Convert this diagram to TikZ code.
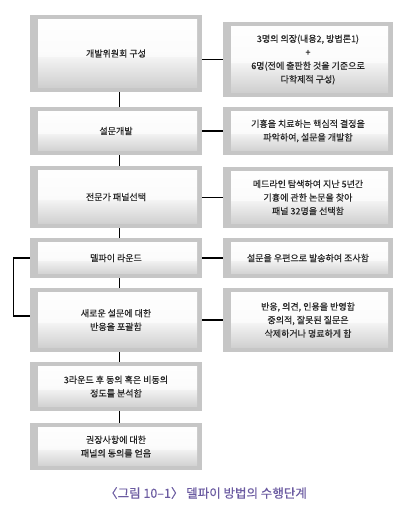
\documentclass[tikz,border=0pt]{standalone}
\usepackage{fontspec}
\setmainfont{Noto Sans CJK KR}[FakeBold=0.5]
\newfontfamily\capfont{Noto Sans CJK KR}[FakeBold=0.3]
\definecolor{boxgray}{HTML}{C6C6C6}
\definecolor{txt}{HTML}{262626}
\definecolor{capcol}{HTML}{6A5AA0}
\tikzset{
  gbox/.style={draw=none, fill=boxgray, inner sep=0pt, align=center, text=txt,
    font=\fontsize{9}{13.5}\selectfont,
    path picture={
      \shade[top color=white, bottom color=boxgray!95, middle color=white!88!boxgray]
        ([xshift=8pt,yshift=-4pt]path picture bounding box.north west)
        rectangle ([xshift=-5pt,yshift=5pt]path picture bounding box.south east);
      \fill[white, opacity=0.55]
        ([xshift=8pt,yshift=-4pt]path picture bounding box.north west)
        rectangle ([xshift=-5pt,yshift=-3pt]path picture bounding box.east);
    }},
  lbox/.style={gbox, minimum width=172pt},
  rbox/.style={gbox, minimum width=170pt},
  conn/.style={draw=black, line width=1.1pt}
}
\begin{document}
\begin{tikzpicture}[x=1pt,y=-1pt]
\useasboundingbox (0,0) rectangle (409,523);
% left column
\node[lbox, minimum height=77pt] (L1) at (116,53.5) {\raisebox{-6.5pt}{개발위원회 구성}};
\node[lbox, minimum height=48pt] (L2) at (116,131) {설문개발};
\node[lbox, minimum height=62pt] (L3) at (116,197) {전문가 패널선택};
\node[lbox, minimum height=40pt] (L4) at (116,258) {델파이 라운드};
\node[lbox, minimum height=64pt] (L5) at (116,320) {새로운 설문에 대한\\반응을 포괄함};
\node[lbox, minimum height=49pt] (L6) at (116,386.5) {3라운드 후 동의 혹은 비동의\\정도를 분석함};
\node[lbox, minimum height=47pt] (L7) at (116,446.5) {권장사항에 대한\\패널의 동의를 얻음};
% right column
\node[rbox, minimum height=75pt] (R1) at (308,59.5) {3명의 의장(내용2, 방법론1)\\+\\6명(전에 출판한 것을 기준으로\\다학제적 구성)};
\node[rbox, minimum height=48pt] (R2) at (308,131) {기흉을 치료하는 핵심적 결정을\\파악하여, 설문을 개발함};
\node[rbox, minimum height=61pt] (R3) at (308,197.5) {메드라인 탐색하여 지난 5년간\\기흉에 관한 논문을 찾아\\패널 32명을 선택함};
\node[rbox, minimum height=40pt] (R4) at (308,258) {설문을 우편으로 발송하여 조사함};
\node[rbox, minimum height=64pt] (R5) at (308,320) {반응, 의견, 인용을 반영함\\중의적, 잘못된 질문은\\삭제하거나 명료하게 함};
% vertical connectors
\foreach \a/\b in {L1/L2,L2/L3,L3/L4,L4/L5,L5/L6,L6/L7}
  \draw[conn] ([xshift=3.5pt]\a.south) -- ([xshift=3.5pt]\b.north);
% horizontal connectors
\foreach \i in {1,...,5}
  \draw[conn] (L\i.east |- R\i.west) -- (R\i.west);
% loop
\draw[conn] (L4.west) -- ++(-16,0) |- ([yshift=4pt]L5.west);
% caption
\node[text=capcol, font=\capfont\fontsize{12.5}{14}\selectfont] (cap) at (206,493) {〈그림 10–1〉 델파이 방법의 수행단계};
\end{tikzpicture}
\end{document}
